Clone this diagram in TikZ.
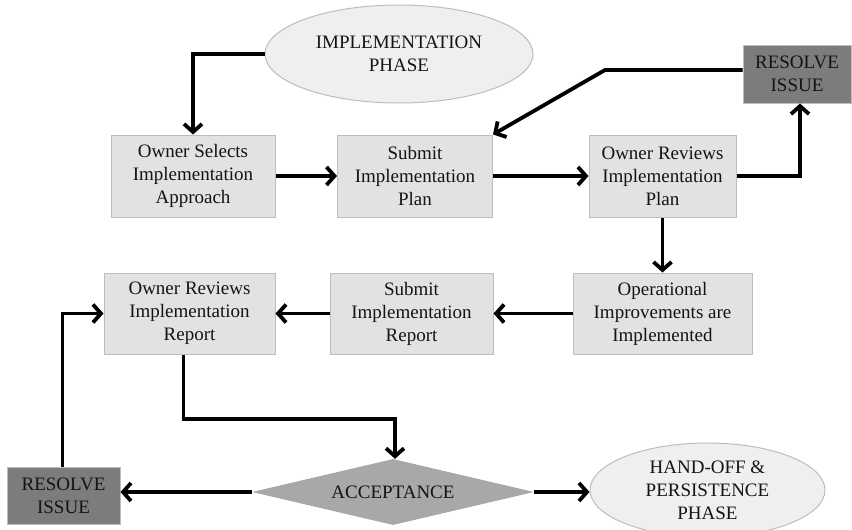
\documentclass[tikz,border=0pt]{standalone}
\usepackage{fontspec}
\setmainfont{Liberation Serif}
\usetikzlibrary{shapes.geometric,arrows.meta}
\definecolor{boxfill}{HTML}{E2E2E2}
\definecolor{boxline}{HTML}{BDBDBD}
\definecolor{ovalfill}{HTML}{EFEFEF}
\definecolor{issuefill}{HTML}{7C7C7C}
\definecolor{decfill}{HTML}{A8A8A8}
\definecolor{ink}{HTML}{141414}
\begin{document}
\begin{tikzpicture}[x=1pt,y=-1pt,
  every node/.style={font=\fontsize{19}{23}\selectfont, text=ink, align=center, inner sep=0pt},
  stepbox/.style={draw=boxline, line width=1pt, fill=boxfill, minimum height=82pt},
  issuebox/.style={draw=boxline, line width=1pt, fill=issuefill, minimum width=110pt, minimum height=58pt},
  phase/.style={ellipse, draw=boxline, line width=1pt, fill=ovalfill},
  decision/.style={diamond, fill=decfill, minimum width=282pt, minimum height=66pt, aspect=4.27},
  flow/.style={line width=3.8pt, black, -{Straight Barb[length=8pt,width=18pt]}}
]
\useasboundingbox (0,0) rectangle (852,530);

% start and end phases
\node[phase, minimum width=268pt, minimum height=98pt] (start) at (399,54) {IMPLEMENTATION\\PHASE};
\node[phase, minimum width=235pt, minimum height=94pt] (handoff) at (707.5,490) {HAND-OFF \&\\PERSISTENCE\\PHASE};

% process steps, upper row
\node[stepbox, minimum width=164pt] (select) at (193,176) {Owner Selects\\Implementation\\Approach};
\node[stepbox, minimum width=155pt] (plan) at (415,176) {Submit\\Implementation\\Plan};
\node[stepbox, minimum width=147pt] (reviewplan) at (662.5,176) {Owner Reviews\\Implementation\\Plan};

% process steps, lower row
\node[stepbox, minimum width=179pt, minimum height=81pt] (improve) at (662.5,313.5) {Operational\\Improvements are\\Implemented};
\node[stepbox, minimum width=163pt, minimum height=81pt] (report) at (411.5,313.5) {Submit\\Implementation\\Report};
\node[stepbox, minimum width=171pt, minimum height=81pt] (reviewrep) at (189.5,313.5) {Owner Reviews\\Implementation\\Report};

% issue boxes and decision
\node[issuebox, minimum width=108pt] (issueA) at (797,74) {RESOLVE\\ISSUE};
\node[issuebox, minimum width=113pt, minimum height=57pt] (issueB) at (63.5,495.5) {RESOLVE\\ISSUE};
\node[decision] (accept) at (393,492) {ACCEPTANCE};

% routing points
\coordinate (bend) at (605,70);
\coordinate (jog) at (300,419);

% connectors
\draw[flow] (start.west) -| (select.north);
\draw[flow] (select.east) -- (plan.west);
\draw[flow] (plan.east) -- (reviewplan.west);
\draw[flow] (reviewplan.east) -| ([xshift=3pt]issueA.south);
\draw[flow] (issueA.west |- bend) -- (bend) -- (plan.north east);
\draw[flow] (reviewplan.south) -- (improve.north);
\draw[flow] (improve.west) -- (report.east);
\draw[flow] (report.west) -- (reviewrep.east);
\draw[flow] ([xshift=-6pt]reviewrep.south) |- (jog) -| ([xshift=2pt]accept.north);
\draw[flow] (accept.west) -- (accept.west -| issueB.east);
\draw[flow] ([xshift=-1pt]issueB.north) |- (reviewrep.west);
\draw[flow] (accept.east) -- (accept.east -| handoff.west);
\end{tikzpicture}
\end{document}
